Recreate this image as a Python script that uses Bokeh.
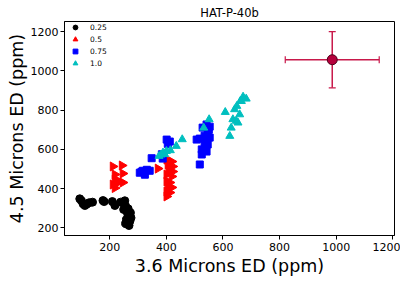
from bokeh.plotting import figure
from bokeh.models import Range1d, FixedTicker, Legend, LegendItem, Whisker, TeeHead, ColumnDataSource
from bokeh.embed import file_html
from bokeh.resources import INLINE

# 0.25 series
x25 = [94, 100, 106, 112, 118, 127, 139, 176, 180, 209, 218, 238, 253, 256, 265, 273, 266, 275, 259, 271, 256, 268, 264, 249, 261]
y25 = [348, 338, 322, 314, 320, 328, 331, 339, 334, 334, 314, 331, 338, 311, 297, 277, 260, 251, 243, 234, 222, 212, 268, 294, 283]
# 0.5 series
x5 = [211, 243, 218, 246, 218, 235, 211, 228, 246, 218, 370, 401, 419, 405, 422, 408, 422, 401, 419, 401, 412, 405, 419, 401, 412, 401]
y5 = [513, 518, 472, 477, 446, 436, 421, 431, 431, 403, 502, 548, 538, 523, 513, 497, 487, 472, 462, 436, 431, 411, 406, 385, 380, 360]
# 0.75 series
x75 = [306, 317, 331, 341, 324, 312, 348, 384, 387, 401, 412, 405, 507, 518, 528, 542, 553, 546, 553, 535, 546, 525, 542, 525, 518, 535, 550]
y75 = [481, 491, 496, 491, 471, 486, 555, 575, 553, 650, 640, 628, 650, 655, 711, 727, 716, 686, 660, 635, 625, 600, 589, 574, 523, 670, 700]
# 1.0 series
x10 = [374, 388, 400, 414, 435, 456, 532, 551, 608, 624, 629, 635, 641, 649, 659, 665, 671, 682, 653, 647, 661, 381, 394]
y10 = [566, 583, 591, 595, 617, 651, 710, 753, 790, 668, 710, 753, 804, 821, 778, 846, 868, 858, 736, 745, 846, 573, 575]
# observed point
obs_x = [986]
obs_y = [1057]
obs_xerr = [166]
obs_yerr = [143]

ticks = [200, 400, 600, 800, 1000, 1200]

FONT = "DejaVu Sans"
p = figure(frame_width=330, frame_height=214, output_backend="svg", toolbar_location=None,
           x_range=Range1d(40, 1206), y_range=Range1d(161, 1252),
           title="HAT-P-40b",
           min_border_left=64, min_border_right=6, min_border_top=21, min_border_bottom=30)
p.title.align = "center"
p.title.text_font = FONT
p.title.text_font_size = "11.5px"
p.title.text_font_style = "normal"
p.title.text_color = "black"
p.title.standoff = 3
p.title.offset = 0
p.xgrid.visible = False
p.ygrid.visible = False
p.outline_line_color = "black"
p.outline_line_width = 1

for ax in (p.xaxis[0], p.yaxis[0]):
    ax.ticker = FixedTicker(ticks=ticks)
    ax.minor_tick_line_color = None
    ax.major_tick_in = 0
    ax.major_tick_out = 4
    ax.major_tick_line_color = "black"
    ax.major_label_text_font = FONT
    ax.major_label_text_font_size = "11px"
    ax.major_label_text_color = "black"
    ax.axis_label_text_font = FONT
    ax.axis_label_text_font_size = "17.5px"
    ax.axis_label_text_font_style = "normal"
    ax.axis_label_text_color = "black"
    ax.axis_line_color = "black"
p.xaxis.major_label_standoff = 3
p.xaxis.axis_label_standoff = 2
p.yaxis.major_label_standoff = 2
p.yaxis.axis_label_standoff = 1
p.xaxis.axis_label = "3.6 Microns ED (ppm)"
p.yaxis.axis_label = "4.5 Microns ED (ppm)"

r1 = p.scatter(x25, y25, marker="circle", size=8, color="black")
r2 = p.scatter(x5, y5, marker="triangle", angle=-1.5708, size=9, color="red")
r3 = p.scatter(x75, y75, marker="square", size=7, color="blue")
r4 = p.scatter(x10, y10, marker="triangle", size=8, color="#00bfbf")

src = ColumnDataSource(dict(
    x=obs_x, y=obs_y,
    xl=[a - b for a, b in zip(obs_x, obs_xerr)], xu=[a + b for a, b in zip(obs_x, obs_xerr)],
    yl=[a - b for a, b in zip(obs_y, obs_yerr)], yu=[a + b for a, b in zip(obs_y, obs_yerr)]))
ecol = "#c8184a"
for dim, base, lo, hi in (("width", "y", "xl", "xu"), ("height", "x", "yl", "yu")):
    w = Whisker(source=src, base=base, lower=lo, upper=hi, dimension=dim,
                line_color=ecol, line_width=1.5,
                lower_head=TeeHead(size=7, line_color=ecol, line_width=1.2),
                upper_head=TeeHead(size=7, line_color=ecol, line_width=1.2))
    p.add_layout(w)
p.scatter("x", "y", source=src, marker="circle", size=10, fill_color="#b5003c", line_color="#4a0018", line_width=1)

legend = Legend(items=[LegendItem(label="0.25", renderers=[r1]),
                       LegendItem(label="0.5", renderers=[r2]),
                       LegendItem(label="0.75", renderers=[r3]),
                       LegendItem(label="1.0", renderers=[r4])],
                location="top_left", margin=0, padding=4, spacing=0,
                glyph_width=22, glyph_height=12, label_height=12, label_standoff=4,
                label_text_font=FONT, label_text_font_size="7.5px", label_text_color="black",
                border_line_color=None, background_fill_alpha=0)
p.add_layout(legend)

open("out.html", "w").write(file_html(p, INLINE))
